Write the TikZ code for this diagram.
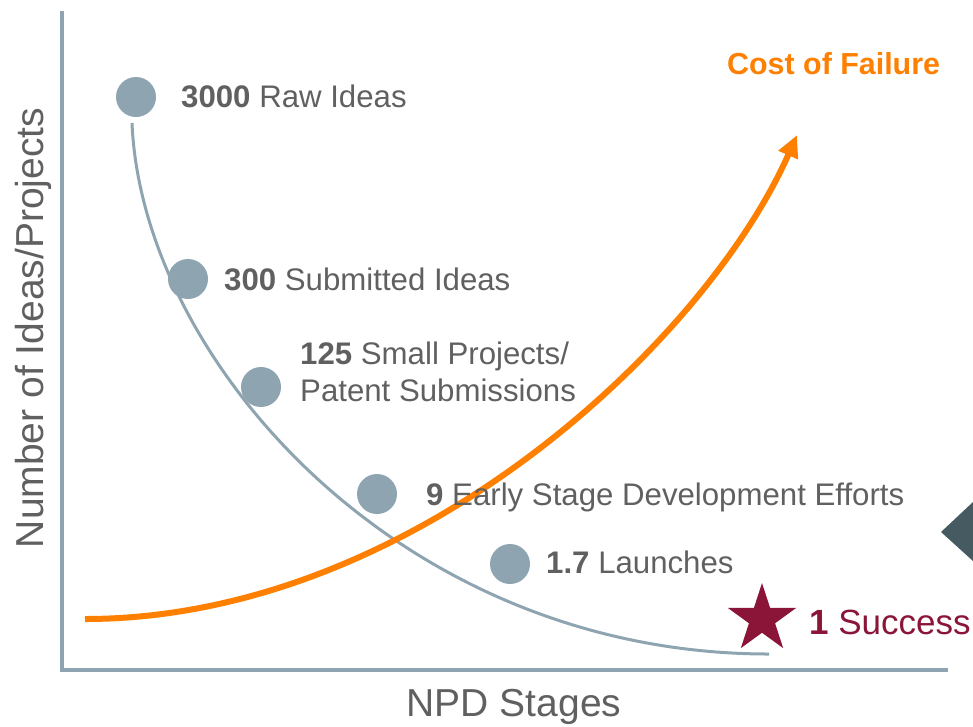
\documentclass[tikz,border=0pt]{standalone}
\usepackage{fontspec}
\setmainfont{Liberation Sans}
\usetikzlibrary{arrows.meta,shapes.geometric}
\definecolor{axisblue}{HTML}{8EA5B1}
\definecolor{txtgray}{HTML}{606060}
\definecolor{costorange}{HTML}{FF7F00}
\definecolor{maroon}{HTML}{8A1538}
\definecolor{slate}{HTML}{465A62}
\tikzset{
  dot/.style={circle, fill=axisblue, minimum size=40, inner sep=0},
  lbl/.style={anchor=base west, inner sep=0, text=txtgray, font=\fontsize{31.2}{37}\selectfont},
  axislbl/.style={inner sep=0, text=txtgray, font=\fontsize{39}{45}\selectfont},
}
\begin{document}
\begin{tikzpicture}[x=1pt,y=-1pt]
\useasboundingbox (0,0) rectangle (973,726);
% axes
\coordinate (top) at (62,11);
\coordinate (origin) at (62,670);
\coordinate (right) at (948,670);
\draw[axisblue, line width=4, line join=miter] (top) -- (origin) -- (right);
% axis labels
\node[axislbl, rotate=90, anchor=base] (ylab) at (43,328) {Number of Ideas/Projects};
\node[axislbl, anchor=base] (xlab) at (514,716) {NPD Stages};
% funnel curve
\coordinate (fstart) at (132,123);
\coordinate (fend) at (769,654);
\draw[axisblue, line width=3] (fstart) .. controls (142,360) and (400,654) .. (fend);
% cost of failure curve
\coordinate (cstart) at (85,619);
\coordinate (cend) at (797,135);
\draw[costorange, line width=6, -{Triangle[length=22,width=20]}] (cstart) .. controls (415,619) and (707,339) .. (cend);
\node[anchor=base west, inner sep=0, text=costorange, font=\fontsize{30.4}{36}\selectfont\bfseries] (cost) at (727,74) {Cost of Failure};
% dots
\node[dot] (d1) at (136,97) {};
\node[dot] (d2) at (188,279) {};
\node[dot] (d3) at (261,387) {};
\node[dot] (d4) at (377,494) {};
\node[dot] (d5) at (510,564) {};
% labels
\node[lbl] (l1) at (181,107) {\textbf{3000} Raw Ideas};
\node[lbl] (l2) at (224,290) {\textbf{300} Submitted Ideas};
\node[lbl] (l3a) at (300,364) {\textbf{125} Small Projects/};
\node[lbl] (l3b) at (300,401) {Patent Submissions};
\node[lbl] (l4) at (426,505) {\textbf{9} Early Stage Development Efforts};
\node[lbl] (l5) at (546,573) {\textbf{1.7} Launches};
% success
\node[star, star points=5, star point ratio=2.618, minimum size=72, inner sep=0, fill=maroon] (star) at (762,619) {};
\node[anchor=base west, inner sep=0, text=maroon, font=\fontsize{35}{40}\selectfont] (succ) at (809,634) {\textbf{1} Success};
% side marker
\fill[slate] (941,532) -- (973,502) -- (973,561) -- cycle;
\end{tikzpicture}
\end{document}
